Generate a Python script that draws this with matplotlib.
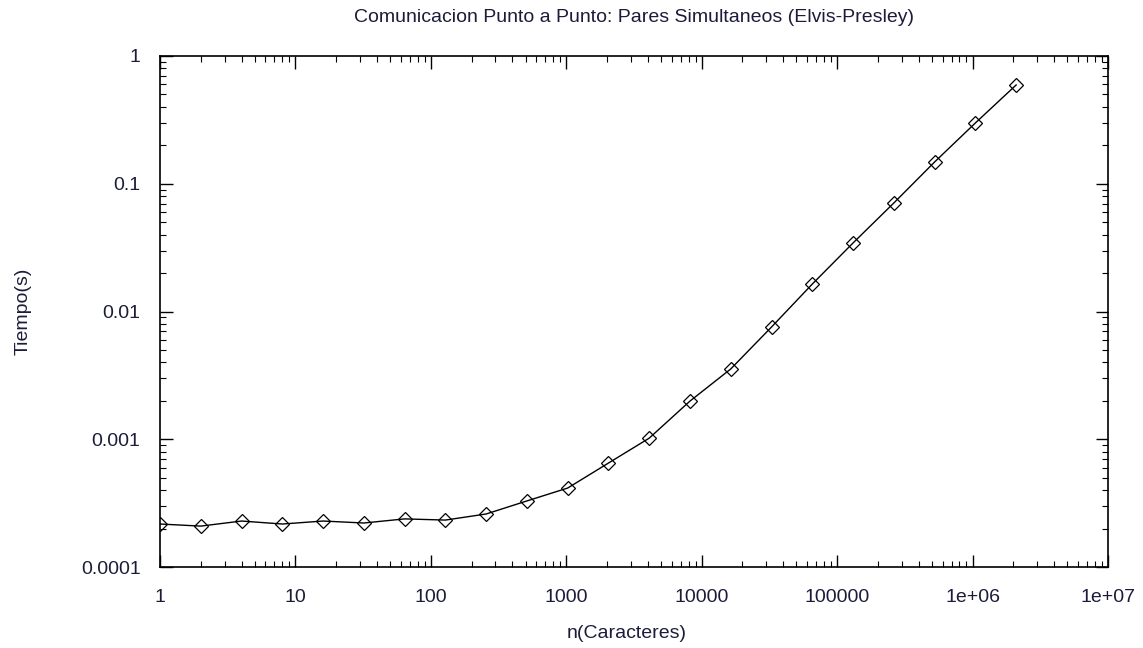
import matplotlib
matplotlib.use("Agg")
import matplotlib.pyplot as plt
from matplotlib.ticker import LogLocator, FixedLocator, NullFormatter
import numpy as np

n_chars = [1, 2, 4, 8, 16, 32, 64, 128, 256, 512, 1024, 2048, 4096, 8192,
           16384, 32768, 65536, 131072, 262144, 524288, 1048576, 2097152]
tiempo = [2.17e-4, 2.09e-4, 2.29e-4, 2.17e-4, 2.29e-4, 2.21e-4, 2.38e-4, 2.33e-4,
          2.60e-4, 3.29e-4, 4.15e-4, 6.51e-4, 1.02e-3, 1.99e-3, 3.55e-3, 7.56e-3,
          0.0164, 0.0344, 0.0707, 0.148, 0.299, 0.593]

x_ticks = [1, 10, 100, 1000, 1e4, 1e5, 1e6, 1e7]
x_labels = ["1", "10", "100", "1000", "10000", "100000", "1e+06", "1e+07"]
y_ticks = [1e-4, 1e-3, 1e-2, 1e-1, 1]
y_labels = ["0.0001", "0.001", "0.01", "0.1", "1"]

W, H = 1143, 648
fig = plt.figure(figsize=(W / 100, H / 100), dpi=100)
ax = fig.add_axes([160 / W, 1 - 567 / H, (1108 - 160) / W, (567 - 56) / H])

txt = "#1c1c3a"
font = "Liberation Sans"
fs = 14

ax.plot(n_chars, tiempo, color="black", lw=1.0, marker="D", markersize=7,
        markerfacecolor="none", markeredgecolor="black", markeredgewidth=0.9)
ax.set_xscale("log")
ax.set_yscale("log")
ax.set_xlim(1, 1e7)
ax.set_ylim(1e-4, 1)

ax.xaxis.set_major_locator(FixedLocator(x_ticks))
ax.set_xticklabels(x_labels)
ax.yaxis.set_major_locator(FixedLocator(y_ticks))
ax.set_yticklabels(y_labels)
ax.xaxis.set_minor_locator(LogLocator(base=10, subs=np.arange(2, 10), numticks=20))
ax.yaxis.set_minor_locator(LogLocator(base=10, subs=np.arange(2, 10), numticks=20))
ax.xaxis.set_minor_formatter(NullFormatter())
ax.yaxis.set_minor_formatter(NullFormatter())

ax.tick_params(which="both", direction="in", top=True, right=True, colors="black",
               labelcolor=txt, labelsize=fs)
ax.tick_params(which="major", length=9, width=1)
ax.tick_params(which="minor", length=4, width=0.8)
ax.tick_params(axis="x", pad=16)
ax.tick_params(axis="y", pad=14)
for lab in ax.get_xticklabels() + ax.get_yticklabels():
    lab.set_fontfamily(font)
for s in ax.spines.values():
    s.set_linewidth(1.2)

fig.text(634 / W, 1 - 18 / H, "Comunicacion Punto a Punto: Pares Simultaneos (Elvis-Presley)",
         ha="center", va="center", fontsize=fs, color=txt, family=font)
fig.text(627 / W, 1 - 634 / H, "n(Caracteres)", ha="center", va="center",
         fontsize=fs, color=txt, family=font)
fig.text(23 / W, 1 - 311 / H, "Tiempo(s)", ha="center", va="center", rotation=90,
         fontsize=fs, color=txt, family=font)

fig.savefig("out.png", dpi=100)
